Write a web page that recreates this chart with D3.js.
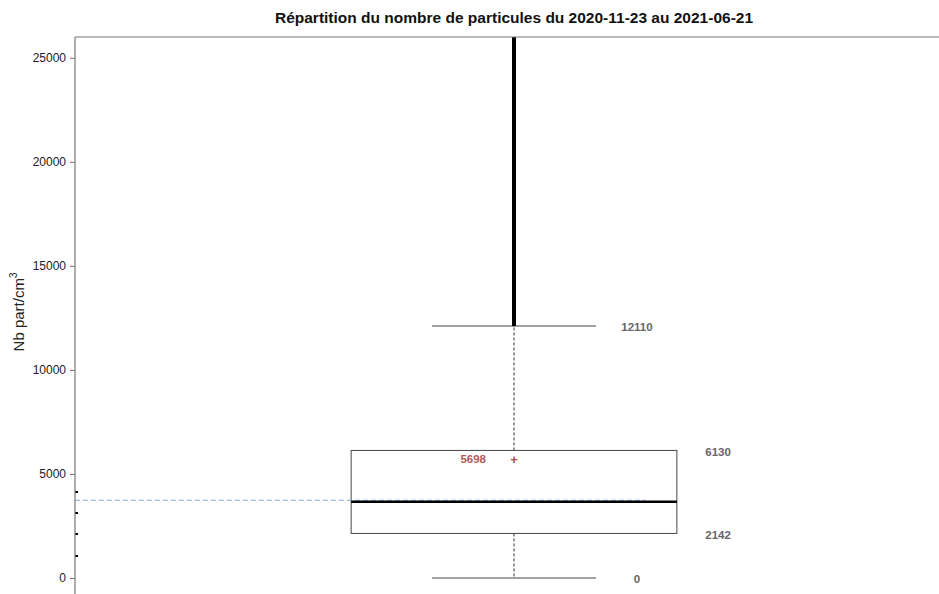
<!DOCTYPE html>
<html><head><meta charset="utf-8">
<script src="https://cdn.jsdelivr.net/npm/d3@7"></script>
<style>body{margin:0;background:#fff}svg{display:block}</style>
</head><body>
<script>
const title = "Répartition du nombre de particules du 2020-11-23 au 2021-06-21";
const yTicks = [0, 5000, 10000, 15000, 20000, 25000];
const stats = {min: 0, q1: 2142, median: 3660, q3: 6130, upperWhisker: 12110, max: 40000, mean: 5698};
const refLine = [3735];
const rugValues = [1058, 2115, 3125, 4135];
const labelValues = [12110, 6130, 2142, 0];

const W = 939, H = 594;
const svg = d3.select("body").append("svg").attr("width", W).attr("height", H);
const y = d3.scaleLinear().domain([0, 26000]).range([578, 37]);
const x = d3.scaleLinear().domain([0, 2]).range([75, 953]);
const font = "Liberation Sans, Arial, sans-serif";

svg.append("clipPath").attr("id","c").append("rect").attr("x",75).attr("y",37).attr("width",W).attr("height",H);
const g = svg.append("g").attr("clip-path","url(#c)");

// frame
svg.append("line").attr("x1",75).attr("x2",W).attr("y1",37).attr("y2",37).attr("stroke","#777").attr("stroke-width",1.2);
svg.append("line").attr("x1",75).attr("x2",75).attr("y1",37).attr("y2",H).attr("stroke","#777").attr("stroke-width",1.2);

// y axis
const ax = svg.append("g").attr("transform","translate(75,0)")
  .call(d3.axisLeft(y).tickValues(yTicks).tickSize(5).tickPadding(4).tickFormat(d3.format("d")));
ax.select(".domain").remove();
ax.selectAll("line").attr("stroke","#777");
ax.selectAll("text").attr("font-family",font).attr("font-size",12).attr("fill","#222");

// axis title
svg.append("text").attr("transform","translate(24,312) rotate(-90)").attr("text-anchor","middle")
  .attr("font-family",font).attr("font-size",15).attr("fill","#222")
  .text("Nb part/cm").append("tspan").attr("dy",-7).attr("font-size",10).text("3");

// title
svg.append("text").attr("x",514).attr("y",23).attr("text-anchor","middle")
  .attr("font-family",font).attr("font-size",15.5).attr("font-weight","bold").attr("fill","#111").text(title);

const cx = x(1);
g.append("line").attr("x1",cx).attr("x2",cx).attr("y1",y(stats.q3)).attr("y2",y(stats.upperWhisker))
  .attr("stroke","#333").attr("stroke-dasharray","3,2");
g.append("line").attr("x1",cx).attr("x2",cx).attr("y1",y(stats.q1)).attr("y2",y(stats.min))
  .attr("stroke","#333").attr("stroke-dasharray","3,2");
[stats.upperWhisker, stats.min].forEach(v=>{
  g.append("line").attr("x1",x(1-0.187)).attr("x2",x(1+0.187)).attr("y1",y(v)).attr("y2",y(v)).attr("stroke","#444");
});
g.append("line").attr("x1",cx).attr("x2",cx).attr("y1",y(stats.upperWhisker)).attr("y2",y(stats.max))
  .attr("stroke","#000").attr("stroke-width",4);
g.append("rect").attr("x",x(1-0.371)).attr("width",x(1+0.371)-x(1-0.371))
  .attr("y",y(stats.q3)).attr("height",y(stats.q1)-y(stats.q3)).attr("fill","none").attr("stroke","#444");
g.append("line").attr("x1",x(0)).attr("x2",x(1.30)).attr("y1",y(refLine[0])).attr("y2",y(refLine[0]))
  .attr("stroke","#7aaae0").attr("stroke-dasharray","5,3");
g.append("line").attr("x1",x(1-0.371)).attr("x2",x(1+0.371)).attr("y1",y(stats.median)).attr("y2",y(stats.median))
  .attr("stroke","#000").attr("stroke-width",2.5);
rugValues.forEach(v=>{
  g.append("line").attr("x1",75).attr("x2",78).attr("y1",y(v)).attr("y2",y(v)).attr("stroke","#000").attr("stroke-width",2);
});
g.append("text").attr("x",cx).attr("y",y(stats.mean)).attr("dy","0.35em").attr("text-anchor","middle")
  .attr("font-family",font).attr("font-size",13).attr("font-weight","bold").attr("fill","#b04848").text("+");
g.append("text").attr("x",x(0.907)).attr("y",y(stats.mean)).attr("dy","0.35em").attr("text-anchor","middle")
  .attr("font-family",font).attr("font-size",11.5).attr("font-weight","bold").attr("fill","#b05a5a").text(stats.mean);
const lblX = {12110: 1.28, 6130: 1.465, 2142: 1.465, 0: 1.28};
labelValues.forEach(v=>{
  svg.append("text").attr("x",x(lblX[v])).attr("y",y(v)).attr("dy","0.45em").attr("text-anchor","middle")
    .attr("font-family",font).attr("font-size",11.5).attr("font-weight","bold").attr("fill","#666").text(v);
});
</script>
</body></html>
